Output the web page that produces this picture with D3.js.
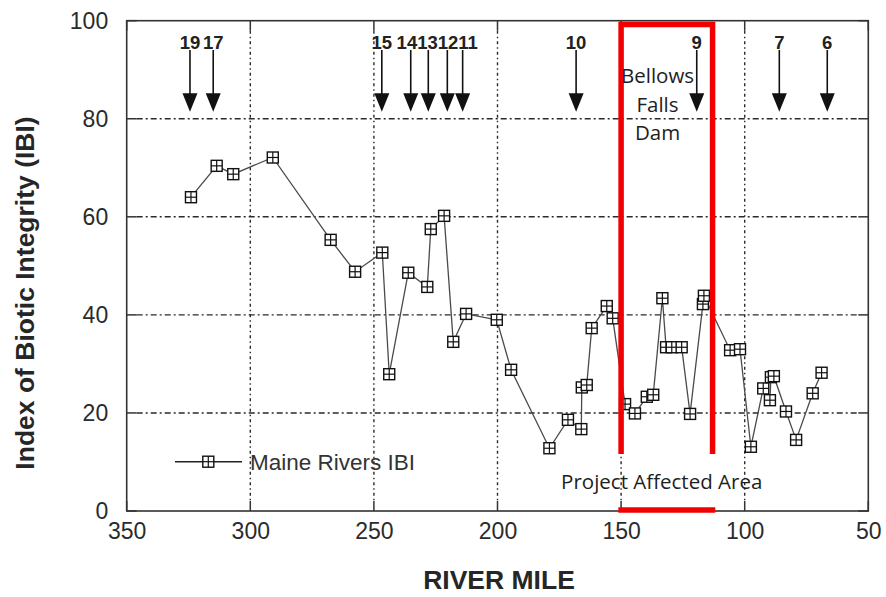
<!DOCTYPE html>
<html>
<head>
<meta charset="utf-8">
<script src="https://cdn.jsdelivr.net/npm/d3@7"></script>
<style>
  html, body { margin: 0; padding: 0; background: #fff; }
  svg { display: block; }
</style>
</head>
<body>
<svg id="chart" width="886" height="597"></svg>
<script>
// ---------------- data ----------------
const riverMiles = [324.0, 313.6, 306.9, 290.9, 267.5, 257.6, 246.6, 243.8, 236.1, 228.4,
                    227.0, 221.6, 217.9, 212.7, 200.3, 194.5, 179.0, 171.5, 166.1, 165.9,
                    163.9, 161.9, 155.8, 153.4, 148.4, 144.4, 139.6, 137.0, 133.3, 131.8,
                    129.5, 125.5, 122.1, 116.9, 116.5, 105.9, 101.9, 97.5, 92.5, 89.8,
                    89.4, 88.2, 83.3, 79.2, 72.5, 68.9];
const ibiValues = [64.0, 70.4, 68.7, 72.1, 55.3, 48.8, 52.7, 27.9, 48.6, 45.7,
                   57.5, 60.2, 34.5, 40.2, 39.0, 28.8, 12.8, 18.6, 16.7, 25.2,
                   25.7, 37.3, 41.8, 39.3, 21.8, 19.9, 23.3, 23.7, 43.4, 33.4,
                   33.4, 33.4, 19.8, 42.2, 43.9, 32.8, 33.0, 13.1, 25.0, 22.6,
                   27.3, 27.5, 20.3, 14.5, 24.0, 28.2];
const stationMiles = [324.4, 315.0, 246.8, 235.1, 228.0, 220.3, 214.1, 168.2, 119.4, 86.0, 66.6];
const stationLabels = ["19", "17", "15", "14", "13", "12", "11", "10", "9", "7", "6"];
const xTickValues = [350, 300, 250, 200, 150, 100, 50];
const yTickValues = [0, 20, 40, 60, 80, 100];
const seriesName = "Maine Rivers IBI";
const affectedArea = [150, 113];   // river miles bounding the project area
const damLines = ["Bellows", "Falls", "Dam"];

// ---------------- layout ----------------
const svg = d3.select("#chart");
const L = 126.7, R = 868.3, T = 20.7, B = 511;
const x = d3.scaleLinear().domain([350, 50]).range([L, R]);
const y = d3.scaleLinear().domain([0, 100]).range([B, T]);
const axisColor = "#333";
const sans = "'Liberation Sans', Arial, sans-serif";
const tickLen = 10;

// gridlines
const grid = svg.append("g");
grid.selectAll("line.h").data(yTickValues.filter(v => v > 0 && v < 100)).join("line")
  .attr("x1", L + tickLen).attr("x2", R - tickLen)
  .attr("y1", d => y(d)).attr("y2", d => y(d))
  .attr("stroke", "#2a2a2a").attr("stroke-width", 1.4)
  .attr("stroke-dasharray", "6,3,2,3");
grid.selectAll("line.v").data(xTickValues.filter(v => v < 350 && v > 50)).join("line")
  .attr("x1", d => x(d)).attr("x2", d => x(d))
  .attr("y1", T + tickLen).attr("y2", B - tickLen)
  .attr("stroke", "#2a2a2a").attr("stroke-width", 1.4)
  .attr("stroke-dasharray", "3,3,1.5,3");

// inward ticks on all sides
const ticks = svg.append("g").attr("stroke", axisColor).attr("stroke-width", 1.5);
yTickValues.forEach(v => {
  ticks.append("line").attr("x1", L).attr("x2", L + tickLen).attr("y1", y(v)).attr("y2", y(v));
  ticks.append("line").attr("x1", R - tickLen).attr("x2", R).attr("y1", y(v)).attr("y2", y(v));
});
xTickValues.forEach(v => {
  ticks.append("line").attr("x1", x(v)).attr("x2", x(v)).attr("y1", B).attr("y2", B - tickLen);
  ticks.append("line").attr("x1", x(v)).attr("x2", x(v)).attr("y1", T).attr("y2", T + tickLen);
});

// frame
svg.append("rect").attr("x", L).attr("y", T).attr("width", R - L).attr("height", B - T)
  .attr("fill", "none").attr("stroke", axisColor).attr("stroke-width", 1.6);

// axes (labels only)
const xAxis = svg.append("g").attr("transform", `translate(0,${B})`)
  .call(d3.axisBottom(x).tickValues(xTickValues).tickSize(0).tickPadding(12).tickFormat(d3.format("d")));
const yAxis = svg.append("g").attr("transform", `translate(${L},0)`)
  .call(d3.axisLeft(y).tickValues(yTickValues).tickSize(0).tickPadding(18.5).tickFormat(d3.format("d")));
[xAxis, yAxis].forEach(g => {
  g.select(".domain").remove();
  g.selectAll("text").attr("font-family", sans).attr("font-size", 23).attr("fill", "#2b2b2b");
});

// axis titles
svg.append("text").attr("x", 499).attr("y", 589).attr("text-anchor", "middle")
  .attr("font-family", sans).attr("font-weight", "bold").attr("font-size", 26.5)
  .attr("fill", "#262626").text("RIVER MILE");
svg.append("text").attr("transform", "translate(34,293) rotate(-90)").attr("text-anchor", "middle")
  .attr("font-family", sans).attr("font-weight", "bold").attr("font-size", 26.5)
  .attr("fill", "#262626").text("Index of Biotic Integrity (IBI)");

// station arrows
const arrowG = svg.append("g");
const tipY = 111.7, headH = 18.5, headW = 15, topY = 50;
stationMiles.forEach(m => {
  const cx = x(m);
  arrowG.append("line").attr("x1", cx).attr("x2", cx).attr("y1", topY).attr("y2", tipY - headH + 1)
    .attr("stroke", "#111").attr("stroke-width", 1.6);
  arrowG.append("path")
    .attr("d", `M${cx - headW / 2},${tipY - headH} L${cx + headW / 2},${tipY - headH} L${cx},${tipY} Z`)
    .attr("fill", "#111");
});
// labels with simple collision dodge
const lbls = stationLabels.map((t, i) => {
  const el = arrowG.append("text").attr("y", 48.5).attr("text-anchor", "middle")
    .attr("font-family", sans).attr("font-weight", "bold").attr("font-size", 18.5)
    .attr("fill", "#222").text(t);
  return { el, c: x(stationMiles[i]), w: el.node().getComputedTextLength() };
});
let clusters = lbls.map(l => ({ items: [l], sumC: l.c, w: l.w }));
let merged = true;
while (merged) {
  merged = false;
  for (let i = 0; i < clusters.length - 1; i++) {
    const a = clusters[i], b = clusters[i + 1];
    const aC = a.sumC / a.items.length, bC = b.sumC / b.items.length;
    if (aC + a.w / 2 > bC - b.w / 2) {
      clusters.splice(i, 2, { items: a.items.concat(b.items), sumC: a.sumC + b.sumC, w: a.w + b.w });
      merged = true;
      break;
    }
  }
}
clusters.forEach(cl => {
  let start = cl.sumC / cl.items.length - cl.w / 2;
  cl.items.forEach(l => { l.el.attr("x", start + l.w / 2); start += l.w; });
});

// series line
const pts = riverMiles.map((m, i) => [m, ibiValues[i]]);
svg.append("path").datum(pts)
  .attr("d", d3.line().x(d => x(d[0])).y(d => y(d[1])))
  .attr("fill", "none").attr("stroke", "#4a4a4a").attr("stroke-width", 1.3);

// markers
const ms = 11;
function marker(g, cx, cy) {
  g.append("rect").attr("x", cx - ms / 2).attr("y", cy - ms / 2).attr("width", ms).attr("height", ms)
    .attr("fill", "#fff").attr("stroke", "#111").attr("stroke-width", 1.4);
  g.append("line").attr("x1", cx - ms / 2).attr("x2", cx + ms / 2).attr("y1", cy).attr("y2", cy)
    .attr("stroke", "#111").attr("stroke-width", 1.2);
  g.append("line").attr("x1", cx).attr("x2", cx).attr("y1", cy - ms / 2).attr("y2", cy + ms / 2)
    .attr("stroke", "#111").attr("stroke-width", 1.2);
}
const mg = svg.append("g");
pts.forEach(d => marker(mg, x(d[0]), y(d[1])));

// legend
const lg = svg.append("g");
lg.append("line").attr("x1", 175).attr("x2", 242).attr("y1", 461.7).attr("y2", 461.7)
  .attr("stroke", "#222").attr("stroke-width", 1.4);
marker(lg, 208.3, 461.7);
lg.append("text").attr("x", 250).attr("y", 469.8).attr("font-family", sans).attr("font-size", 22.5)
  .attr("fill", "#333").text(seriesName);

// project affected area (red box)
const red = "#f00000";
const xa = x(affectedArea[0]), xb = x(affectedArea[1]);
svg.append("path")
  .attr("d", `M${xa},454 V24.5 H${xb} V454`)
  .attr("fill", "none").attr("stroke", red).attr("stroke-width", 5.5).attr("stroke-linejoin", "miter");
svg.append("line").attr("x1", xa).attr("x2", xb).attr("y1", 510).attr("y2", 510)
  .attr("stroke", red).attr("stroke-width", 5.5).attr("stroke-linecap", "square");

const annoFont = "'Open Sans', 'Noto Sans', sans-serif";
svg.append("g").selectAll("text").data(damLines).join("text")
  .attr("x", 657.5).attr("y", (d, i) => 83.3 + i * 28.3).attr("text-anchor", "middle")
  .attr("font-family", annoFont).attr("font-size", 20.5).attr("fill", "#1e1e1e").text(d => d);
svg.append("text").attr("x", 661.7).attr("y", 489).attr("text-anchor", "middle")
  .attr("font-family", annoFont).attr("font-size", 20.5).attr("fill", "#1e1e1e")
  .text("Project Affected Area");
</script>
</body>
</html>
